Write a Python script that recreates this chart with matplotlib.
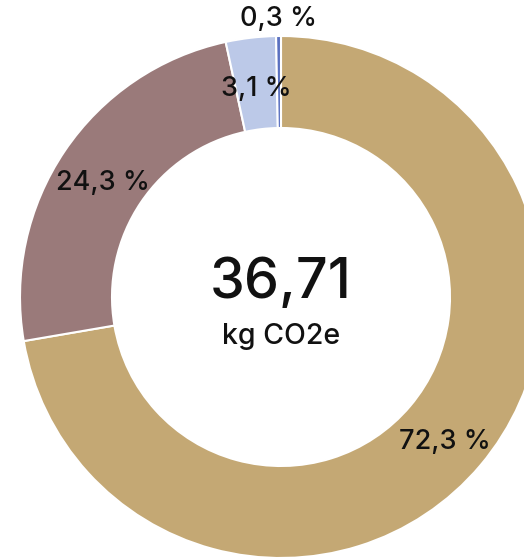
import matplotlib
matplotlib.use("Agg")
import matplotlib.pyplot as plt
import numpy as np

labels = ["72,3 %", "24,3 %", "3,1 %", "0,3 %"]
values = [72.3, 24.3, 3.1, 0.3]
colors = ["#C4A874", "#9A7A7A", "#BCC9E8", "#5A70C0"]
total_text = "36,71"
unit_text = "kg CO2e"

W, H = 524, 560
cx, cy = 281, 297
R, r = 261, 169

fig = plt.figure(figsize=(W / 100, H / 100), dpi=100)
ax = fig.add_axes([0, 0, 1, 1])

wedges, _ = ax.pie(values, colors=colors, startangle=90, counterclock=False,
                   radius=R, wedgeprops=dict(width=R - r, edgecolor="white", linewidth=1.5))
ax.set_aspect("auto")
ax.set_xlim(-cx, W - cx)
ax.set_ylim(-(H - cy), cy)
ax.axis("off")

cum = np.cumsum([0] + values[:-1])
tot = sum(values)
for lab, v, c in zip(labels, values, cum):
    mid = (c + v / 2) / tot * 360
    ang = np.deg2rad(90 - mid)
    if v > 1:
        rad, dy = (R + r) / 2, -6
    else:
        rad, dy = R + 19, -2
    ax.text(rad * np.cos(ang), rad * np.sin(ang) + dy, lab, ha="center", va="center",
            fontsize=19.5, family="Inter", weight=500, color="#111111")

ax.text(0, 297 - 283, total_text, ha="center", va="center", fontsize=40, family="Inter", weight=500, color="#111111")
ax.text(0, 297 - 336, unit_text, ha="center", va="center", fontsize=20.5, family="Inter", weight=500, color="#111111")

fig.savefig("out.png", dpi=100)
